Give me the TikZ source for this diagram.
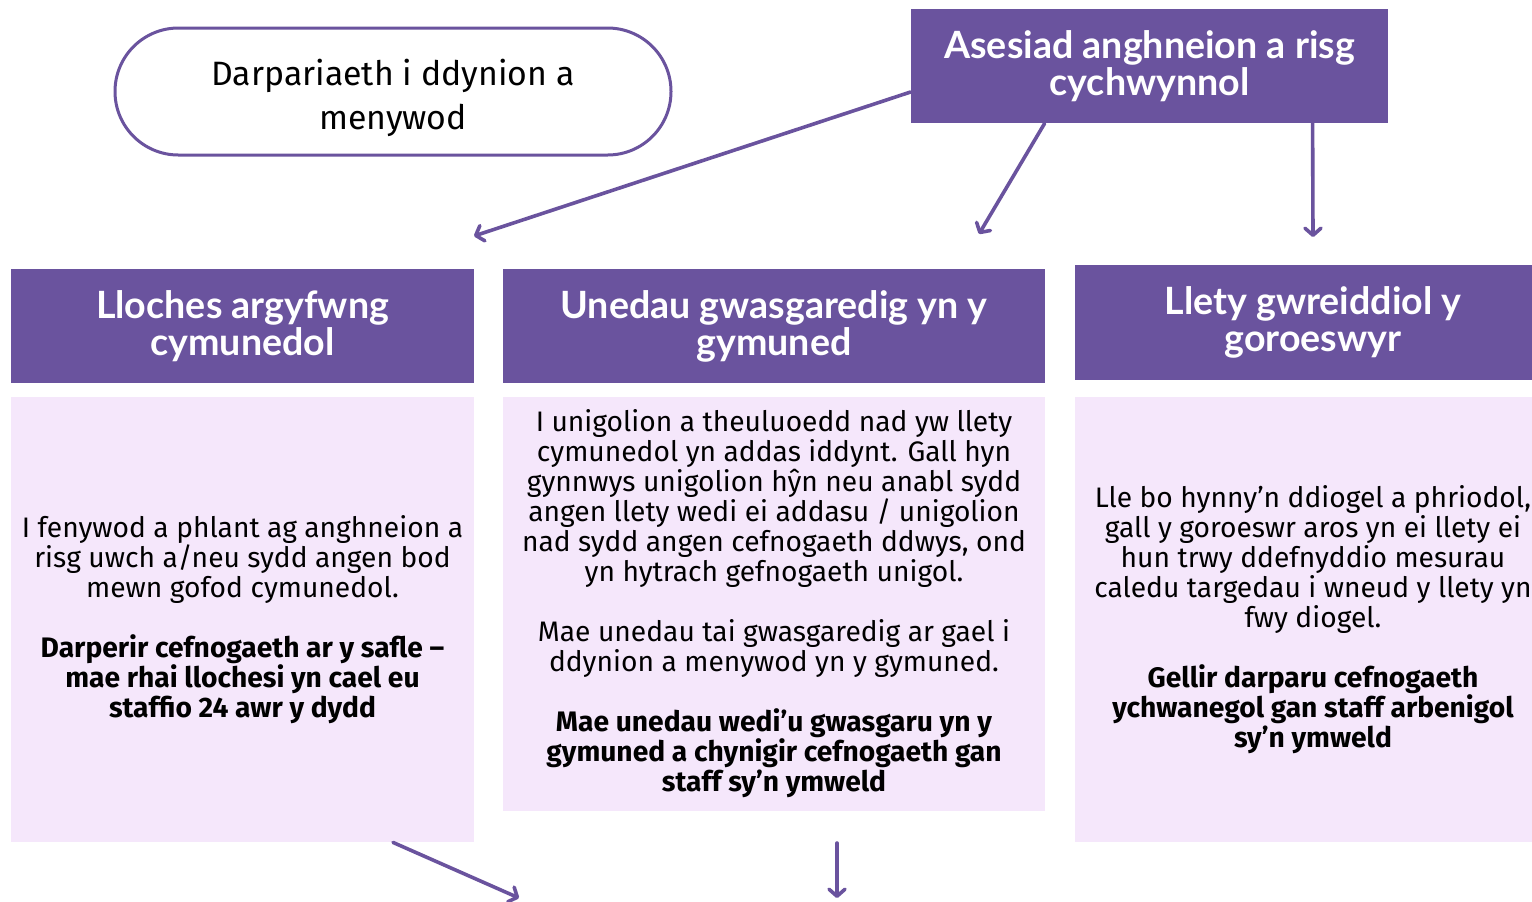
\documentclass[tikz,border=0pt]{standalone}
\usepackage{fontspec}
\setmainfont{Fira Sans}
\newfontfamily\headfont{Lato}
\usetikzlibrary{arrows.meta}
\definecolor{purp}{HTML}{6A539E}
\definecolor{lav}{HTML}{F5E7FB}
\tikzset{
  hbox/.style={fill=purp, draw=none, inner sep=0pt, align=center, text=white,
    font=\headfont\bfseries\fontsize{18.8}{18.5}\selectfont},
  bbox/.style={fill=lav, draw=none, inner sep=0pt, align=center, text=black,
    font=\fontsize{14.1}{15}\selectfont},
  con/.style={draw=purp, line width=1.8pt, line cap=round,
    -{Straight Barb[length=3.5pt,width=8pt,line cap=round,line join=round]}},
}
\begin{document}
\begin{tikzpicture}[x=0.5pt,y=-0.5pt]
\useasboundingbox[fill=white] (0,0) rectangle (1532,901);

\node[draw=purp, line width=1.5pt, rounded corners=31.7pt, minimum width=278pt, minimum height=63.5pt,
  align=center, inner sep=0pt, font=\fontsize{16.9}{22}\selectfont] (oval) at (393,91.5)
  {\rule{0pt}{19.5pt}Darpariaeth i ddynion a\\menywod};

\node[hbox, minimum width=238.5pt, minimum height=57pt] (top) at (1149.5,66)
  {Asesiad anghneion a risg\\cychwynnol};

\node[hbox, minimum width=231.5pt, minimum height=57pt] (lhead) at (242.5,326)
  {Lloches argyfwng\\cymunedol};
\node[hbox, minimum width=271pt, minimum height=57pt] (mhead) at (774,326)
  {Unedau gwasgaredig yn y\\gymuned};
\node[hbox, minimum width=238pt, minimum height=57.5pt] (rhead) at (1313,322.5)
  {Llety gwreiddiol y\\goroeswyr};

\node[bbox, minimum width=231.5pt, minimum height=222.5pt] (lbody) at (242.5,619.5)
  {I fenywod a phlant ag anghneion a\\risg uwch a/neu sydd angen bod\\mewn gofod cymunedol.\\[15pt]
   \textbf{Darperir cefnogaeth ar y safle –}\\\textbf{mae rhai llochesi yn cael eu}\\\textbf{staffio 24 awr y dydd}};
\node[bbox, minimum width=271pt, minimum height=207pt] (mbody) at (774,604)
  {I unigolion a theuluoedd nad yw llety\\cymunedol yn addas iddynt. Gall hyn\\gynnwys unigolion hŷn neu anabl sydd\\angen llety wedi ei addasu / unigolion\\nad sydd angen cefnogaeth ddwys, ond\\yn hytrach gefnogaeth unigol.\\[15pt]
   Mae unedau tai gwasgaredig ar gael i\\ddynion a menywod yn y gymuned.\\[15pt]
   \textbf{Mae unedau wedi’u gwasgaru yn y}\\\textbf{gymuned a chynigir cefnogaeth gan}\\\textbf{staff sy’n ymweld}};
\node[bbox, minimum width=238pt, minimum height=222.5pt] (rbody) at (1313,619.5)
  {Lle bo hynny’n ddiogel a phriodol,\\gall y goroeswr aros yn ei llety ei\\hun trwy ddefnyddio mesurau\\caledu targedau i wneud y llety yn\\fwy diogel.\\[15pt]
   \textbf{Gellir darparu cefnogaeth}\\\textbf{ychwanegol gan staff arbenigol}\\\textbf{sy’n ymweld}};

\coordinate (e1) at (474,236);
\coordinate (e2) at (979,234);
\coordinate (e3) at (1313,237);
\coordinate (s5) at (837,843);
\coordinate (e4) at (519,898);
\coordinate (e5) at (837,898);

\draw[con] ([yshift=-13pt]top.west) -- (e1);
\draw[con] ([xshift=67pt]top.south west) -- (e2);
\draw[con] ([xshift=201pt]top.south west) -- (e3);
\draw[con] ([xshift=75.25pt]lbody.south) -- (e4);
\draw[con] (s5) -- (e5);
\end{tikzpicture}
\end{document}
